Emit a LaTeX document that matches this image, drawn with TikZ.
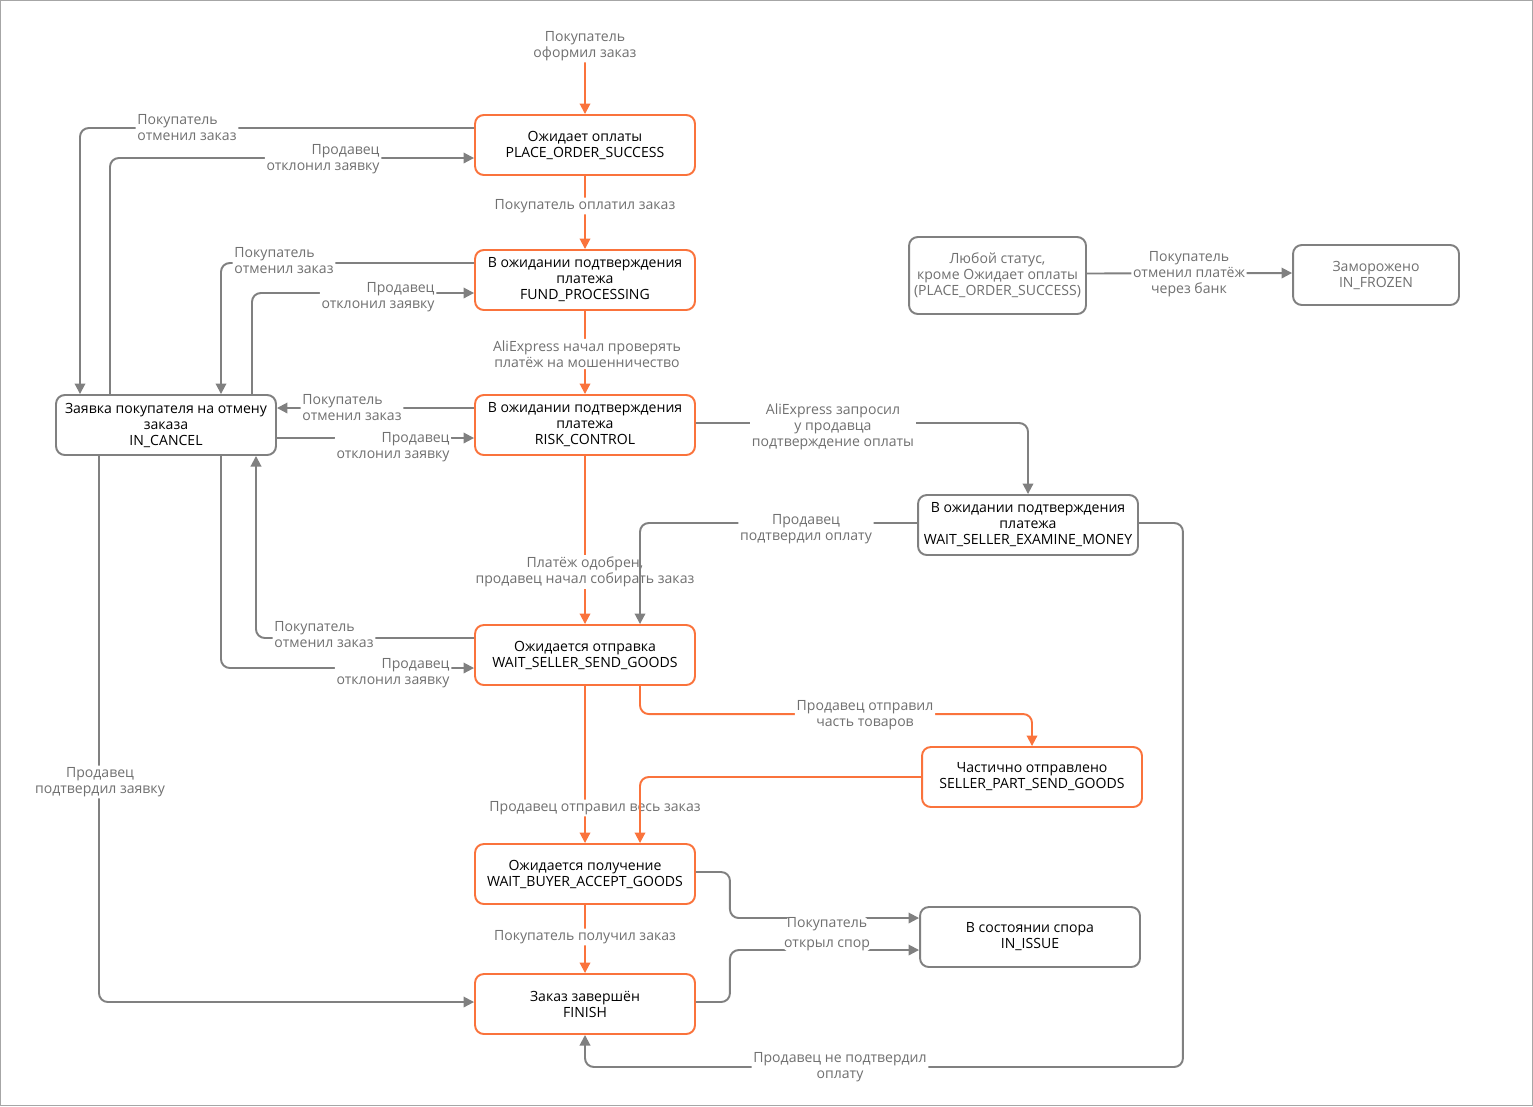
\documentclass[tikz,border=0pt]{standalone}
\usepackage{fontspec}
\setmainfont{Open Sans}
\usepackage{tikz}
\usetikzlibrary{positioning,arrows.meta,calc}

\definecolor{flow}{RGB}{250,115,60}
\definecolor{side}{RGB}{128,128,128}
\definecolor{note}{RGB}{112,112,112}

\begin{document}
\begin{tikzpicture}[
    x=0.02cm,
    y=-0.02cm,
    >={Triangle[length=6pt,width=6pt]},
    line width=1.1pt
]

\tikzstyle{status}=[
    rectangle,
    draw=flow,
    rounded corners=5pt,
    fill=white,
    minimum width=4.4cm,
    minimum height=1.2cm,
    inner sep=2pt,
    align=center,
    font=\fontsize{8}{9.1}\selectfont
]
\tikzstyle{side status}=[status, draw=side]
\tikzstyle{move}=[->, draw=flow, rounded corners=5pt]
\tikzstyle{other move}=[->, draw=side, rounded corners=5pt]
\tikzstyle{lbl}=[
    fill=white,
    text=note,
    inner sep=1pt,
    align=center,
    font=\fontsize{8}{9.1}\selectfont
]

\useasboundingbox (0,0) rectangle (1533,1106);
\draw[side!70, line width=0.6pt] (0.5,0.5) rectangle (1532.5,1105.5);

% main line
\node[status] (place) at (585,145) {Ожидает оплаты\\PLACE\_ORDER\_SUCCESS};
\node[status] (fund) at (585,280) {В ожидании подтверждения\\платежа\\FUND\_PROCESSING};
\node[status] (risk) at (585,425) {В ожидании подтверждения\\платежа\\RISK\_CONTROL};
\node[status] (sendgoods) at (585,655) {Ожидается отправка\\WAIT\_SELLER\_SEND\_GOODS};
\node[status] (accept) at (585,874) {Ожидается получение\\WAIT\_BUYER\_ACCEPT\_GOODS};
\node[status] (finish) at (585,1004) {Заказ завершён\\FINISH};
\node[status] (partsend) at (1032,777) {Частично отправлено\\SELLER\_PART\_SEND\_GOODS};

% side states
\node[side status] (cancel) at (166,425) {Заявка покупателя на отмену\\заказа\\IN\_CANCEL};
\node[side status] (examine) at (1028,525) {В ожидании подтверждения\\платежа\\WAIT\_SELLER\_EXAMINE\_MONEY};
\node[side status] (issue) at (1030,937) {В состоянии спора\\IN\_ISSUE};
\node[side status, text=note, minimum width=3.54cm, minimum height=1.54cm] (anystatus) at (997.5,275.5) {Любой статус,\\кроме Ожидает оплаты\\(PLACE\_ORDER\_SUCCESS)};
\node[side status, text=note, minimum width=3.32cm] (frozen) at (1376,275) {Заморожено\\IN\_FROZEN};

\coordinate (start) at (585,62);

% orange flow
\draw[move] (start) node[lbl] at (585,46) {Покупатель\\оформил заказ} -- (place);
\draw[move] (place) -- (fund) node[lbl] at (585,206) {Покупатель оплатил заказ};
\draw[move] (fund) -- (risk) node[lbl] at (587,354) {AliExpress начал проверять\\платёж на мошенничество};
\draw[move] (risk) -- (sendgoods) node[lbl] at (585,572) {Платёж одобрен,\\продавец начал собирать заказ};
\draw[move] (sendgoods) -- (accept) node[lbl] at (595,808) {Продавец отправил весь заказ};
\draw[move] (accept) -- (finish) node[lbl] at (585,937) {Покупатель получил заказ};
\draw[move] ($(sendgoods.south)+(55,0)$) |- ($(partsend.north)+(0,-32)$) -- (partsend.north)
    node[lbl] at (865,715) {Продавец отправил\\часть товаров};
\draw[move] (partsend.west) -| ($(accept.north)+(55,0)$);

% cancellation
\draw[other move] ($(place.west)+(0,-17)$) -| ($(cancel.north)+(-86,0)$)
    node[lbl, align=left] at (187,128) {Покупатель\\отменил заказ};
\draw[other move] ($(cancel.north)+(-56,0)$) |- ($(place.west)+(0,13)$)
    node[lbl, align=right] at (323,159) {Продавец\\отклонил заявку};
\draw[other move] ($(fund.west)+(0,-17)$) -| ($(cancel.north)+(55,0)$)
    node[lbl, align=left] at (284,261) {Покупатель\\отменил заказ};
\draw[other move] ($(cancel.north)+(86,0)$) |- ($(fund.west)+(0,13)$)
    node[lbl, align=right] at (378,297) {Продавец\\отклонил заявку};
\draw[other move] ($(risk.west)+(0,-17)$) -- ($(cancel.east)+(0,-17)$)
    node[lbl, align=left] at (352,408) {Покупатель\\отменил заказ};
\draw[other move] ($(cancel.east)+(0,13)$) -- ($(risk.west)+(0,13)$)
    node[lbl, align=right] at (393,447) {Продавец\\отклонил заявку};
\draw[other move] ($(sendgoods.west)+(0,-17)$) -| ($(cancel.south)+(90,0)$)
    node[lbl, align=left] at (324,635) {Покупатель\\отменил заказ};
\draw[other move] ($(cancel.south)+(55,0)$) |- ($(sendgoods.west)+(0,13)$)
    node[lbl, align=right] at (393,673) {Продавец\\отклонил заявку};
\draw[other move] ($(cancel.south)+(-67,0)$) |- ($(finish.west)+(0,-2)$)
    node[lbl] at (100,782) {Продавец\\подтвердил заявку};

% seller check
\draw[other move] ($(risk.east)+(0,-2)$) -| (examine.north)
    node[lbl] at (833,427) {AliExpress запросил\\у продавца\\подтверждение оплаты};
\draw[other move] ($(examine.west)+(0,-2)$) -| ($(sendgoods.north)+(55,0)$)
    node[lbl] at (806,529) {Продавец\\подтвердил оплату};
\draw[other move] ($(examine.east)+(0,-2)$) -- ($(examine.east)+(44,-2)$) |- ($(finish.south)+(0,32)$) -- (finish.south)
    node[lbl] at (840,1067) {Продавец не подтвердил\\оплату};

% dispute
\draw[other move] ($(accept.east)+(0,-2)$) -- ++(34,0) |- ($(issue.west)+(0,-19)$)
    node[lbl] at (827,924) {Покупатель};
\draw[other move] ($(finish.east)+(0,-2)$) -- ++(34,0) |- ($(issue.west)+(0,13)$)
    node[lbl] at (827,945) {открыл спор};

% frozen
\draw[other move] ($(anystatus.east)+(0,-2)$) -- ($(frozen.west)+(0,-2)$)
    node[lbl] at (1189,274) {Покупатель\\отменил платёж\\через банк};

\end{tikzpicture}
\end{document}
